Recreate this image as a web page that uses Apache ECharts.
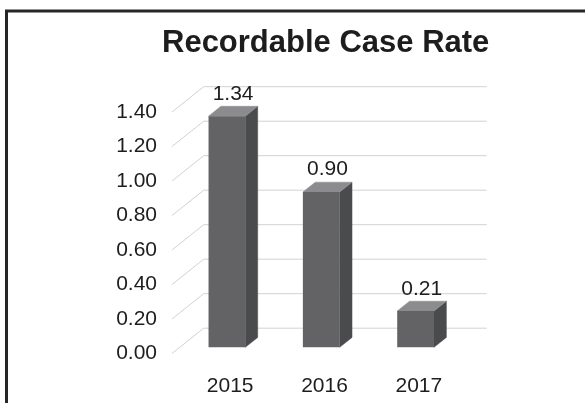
<!DOCTYPE html>
<html>
<head>
<meta charset="utf-8">
<title>Recordable Case Rate</title>
<script src="https://cdn.jsdelivr.net/npm/echarts@6/dist/echarts.min.js"></script>
<style>
  html, body { margin: 0; padding: 0; background: #ffffff; }
  #chart { width: 585px; height: 403px; }
</style>
</head>
<body>
<div id="chart"></div>
<script>
// Chart data
var years = ['2015', '2016', '2017'];
var caseRates = [1.34, 0.90, 0.21];
var yTicks = [0, 0.2, 0.4, 0.6, 0.8, 1.0, 1.2, 1.4];

// Oblique 3D look: offset from the front wall to the back wall, in pixels
var WALL_DEPTH = [31.7, -25.3];
var BAR_FRONT = 0.245;   // fraction of wall depth where the bar's front face sits
var BAR_DEPTH = 0.39;    // fraction of wall depth the bar occupies
var BAR_WIDTH = 0.39;    // fraction of the category band

var FONT = '"Liberation Sans", Arial, Helvetica, sans-serif';
var TEXT_COLOR = '#1d1d1d';

var chart = echarts.init(document.getElementById('chart'), null, { renderer: 'canvas' });

function renderGridLine(params, api) {
  var cs = params.coordSys;
  var y = api.coord([0, api.value(1)])[1];
  var x0 = cs.x;
  var x1 = cs.x + cs.width;
  return {
    type: 'polyline',
    shape: {
      points: [
        [x0, y],
        [x0 + WALL_DEPTH[0], y + WALL_DEPTH[1]],
        [x1 + WALL_DEPTH[0], y + WALL_DEPTH[1]]
      ]
    },
    style: { stroke: '#d2d2d2', lineWidth: 1, fill: null },
    silent: true
  };
}

function renderBar(params, api) {
  var idx = api.value(0);
  var val = api.value(1);
  var base = api.coord([idx, 0]);
  var top = api.coord([idx, val]);
  var band = api.size([1, 0])[0];
  var w = band * BAR_WIDTH;
  var ox = WALL_DEPTH[0] * BAR_FRONT;
  var oy = WALL_DEPTH[1] * BAR_FRONT;
  var dx = WALL_DEPTH[0] * BAR_DEPTH;
  var dy = WALL_DEPTH[1] * BAR_DEPTH;
  var xl = base[0] + ox - w / 2;
  var xr = xl + w;
  var yb = base[1] + oy;
  var yt = top[1] + oy;
  return {
    type: 'group',
    children: [
      {
        type: 'polygon',
        shape: { points: [[xr, yt], [xr + dx, yt + dy], [xr + dx, yb + dy], [xr, yb]] },
        style: { fill: '#4a4b4d', stroke: '#4a4b4d', lineWidth: 0.5 }
      },
      {
        type: 'polygon',
        shape: { points: [[xl, yt], [xl + dx, yt + dy], [xr + dx, yt + dy], [xr, yt]] },
        style: { fill: '#8c8c8e', stroke: '#8c8c8e', lineWidth: 0.5 }
      },
      {
        type: 'rect',
        shape: { x: xl, y: yt, width: w, height: yb - yt },
        style: { fill: '#636365' }
      },
      {
        type: 'text',
        x: (xl + xr + dx) / 2,
        y: yt + dy - 2,
        style: {
          text: val.toFixed(2),
          fill: TEXT_COLOR,
          font: '21px ' + FONT,
          align: 'center',
          verticalAlign: 'bottom'
        }
      }
    ]
  };
}

chart.setOption({
  animation: false,
  backgroundColor: '#ffffff',
  title: {
    text: 'Recordable Case Rate',
    left: 157,
    top: 23,
    textStyle: {
      fontFamily: FONT,
      fontSize: 31,
      fontWeight: 'bold',
      color: TEXT_COLOR
    }
  },
  graphic: [
    {
      type: 'rect',
      shape: { x: 6.5, y: 11, width: 800, height: 800 },
      style: { fill: null, stroke: '#262626', lineWidth: 3 },
      silent: true,
      z: 100
    }
  ],
  grid: { left: 172, right: 130, top: 112, bottom: 49.5, containLabel: false },
  xAxis: {
    type: 'category',
    data: years,
    boundaryGap: true,
    axisLine: { show: false },
    axisTick: { show: false },
    splitLine: { show: false },
    axisLabel: {
      margin: 22,
      fontSize: 21,
      fontFamily: FONT,
      color: TEXT_COLOR,
      padding: [0, 0, 0, 22]
    }
  },
  yAxis: {
    type: 'value',
    min: 0,
    max: 1.4,
    interval: 0.2,
    axisLine: { show: false },
    axisTick: { show: false },
    splitLine: { show: false },
    axisLabel: {
      margin: 15,
      fontSize: 21,
      fontFamily: FONT,
      color: TEXT_COLOR,
      formatter: function (v) { return v.toFixed(2); }
    }
  },
  series: [
    {
      name: 'grid',
      type: 'custom',
      silent: true,
      z: 1,
      renderItem: renderGridLine,
      encode: { x: 0, y: 1 },
      data: yTicks.map(function (v) { return [0, v]; })
    },
    {
      name: 'Recordable Case Rate',
      type: 'custom',
      z: 2,
      renderItem: renderBar,
      encode: { x: 0, y: 1 },
      data: caseRates.map(function (v, i) { return [i, v]; })
    }
  ]
});
</script>
</body>
</html>
